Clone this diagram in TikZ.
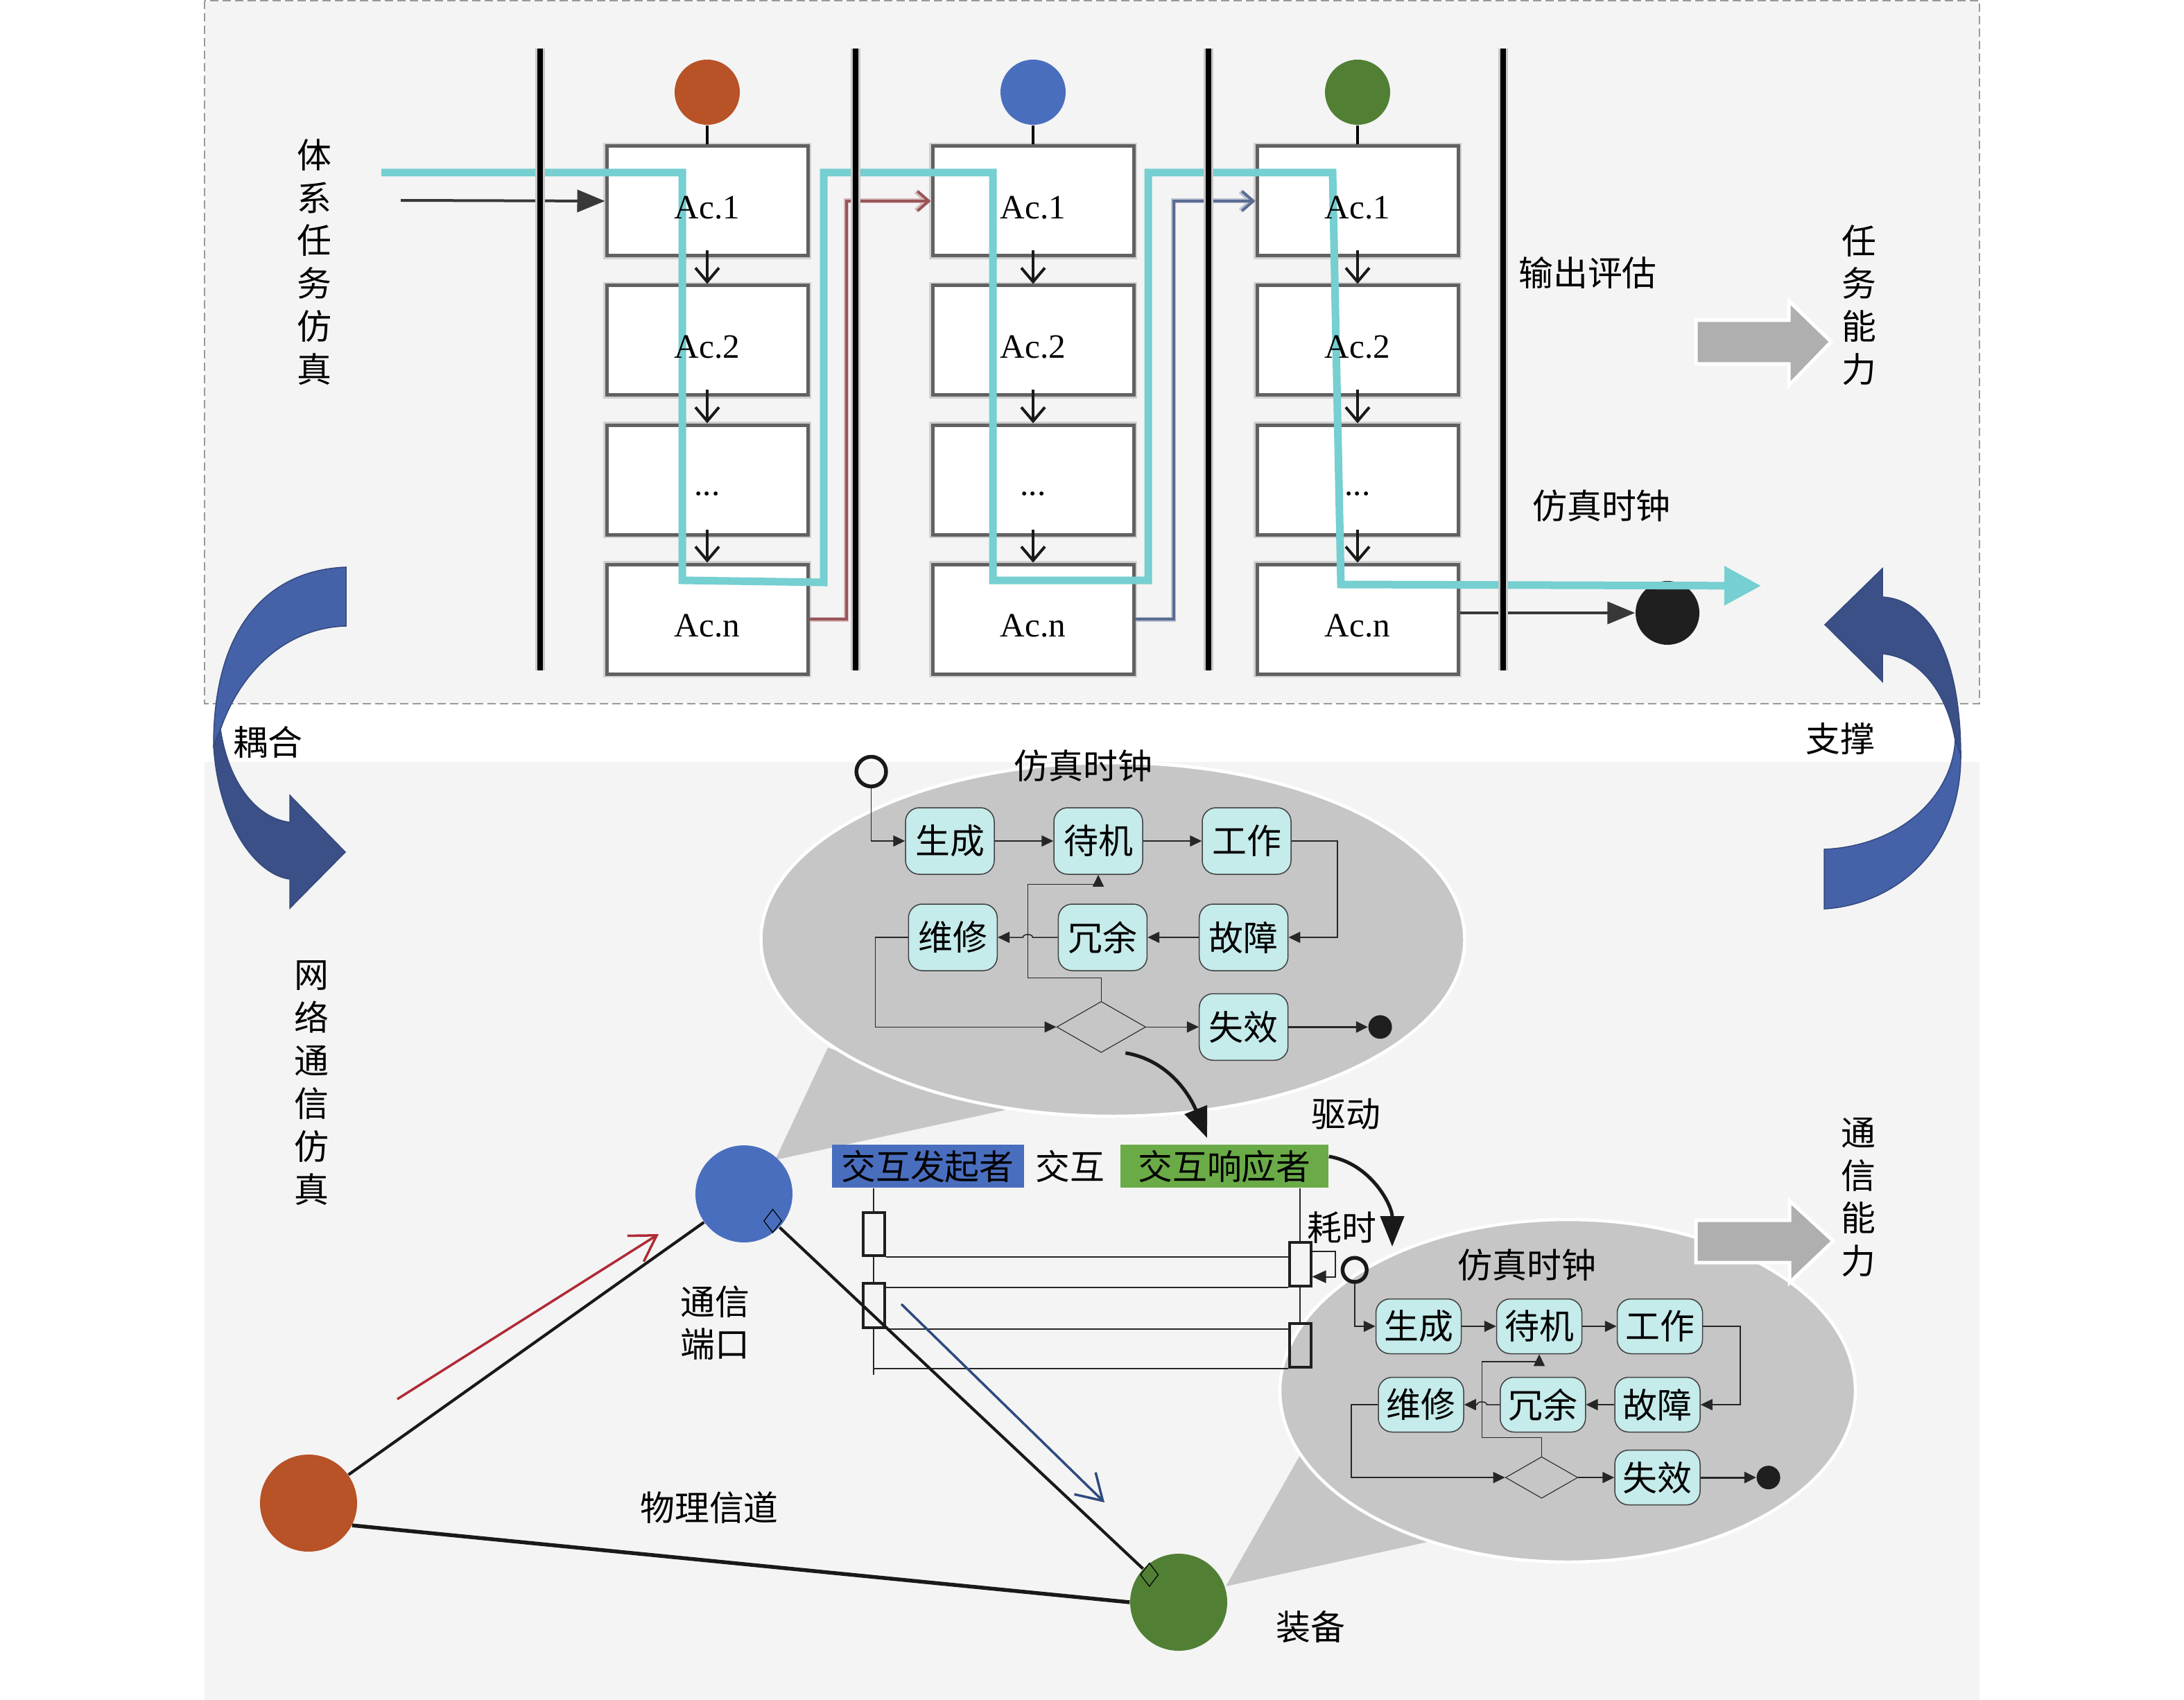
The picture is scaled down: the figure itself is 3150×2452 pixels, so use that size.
\documentclass[tikz,border=0pt]{standalone}
\usepackage{fontspec}
\setmainfont{Liberation Serif}
\newfontfamily\cjk{Noto Sans CJK SC}
\usetikzlibrary{arrows.meta,shapes.geometric,calc}

\definecolor{panelgray}{HTML}{F4F4F4}
\definecolor{rust}{HTML}{B85227}
\definecolor{royal}{HTML}{4A6EBE}
\definecolor{leaf}{HTML}{518035}
\definecolor{aqua}{HTML}{76CFD0}
\definecolor{bubblegray}{HTML}{C6C6C6}
\definecolor{mint}{HTML}{C5EBEA}
\definecolor{ribbonlight}{HTML}{4561A8}
\definecolor{ribbondark}{HTML}{3B5086}
\definecolor{ribbonedge}{HTML}{34497F}
\definecolor{blockgray}{HTML}{AFAFAF}
\definecolor{respgreen}{HTML}{6AAB48}
\definecolor{wine}{HTML}{B02A36}
\definecolor{navy}{HTML}{2E4B7F}
\definecolor{dustred}{HTML}{9A5558}
\definecolor{slate}{HTML}{5A6C92}

\tikzset{
  zh/.style={font=\cjk\fontsize{14.2pt}{17.6pt}\selectfont, inner sep=0pt},
  actlabel/.style={font=\fontsize{14pt}{16pt}\selectfont, inner sep=0pt},
  actbox/.style={draw=black!62, line width=0.5mm, fill=white, minimum width=29mm,
    minimum height=15.8mm, inner sep=0pt, preaction={draw=black!18, line width=1mm}},
  lanedot/.style={circle, minimum size=9.4mm, inner sep=0pt},
  lane/.style={line width=0.85mm, preaction={draw=black!22, line width=1.35mm}},
  stem/.style={line width=0.4mm},
  nextact/.style={draw=black!90, line width=0.4mm, -{Straight Barb[length=2mm,width=3.4mm]}},
  feed/.style={draw=black!78, line width=0.4mm, -{Triangle[length=4mm,width=3.2mm]}},
  handover/.style={line width=0.4mm, -{Straight Barb[length=1.6mm,width=2.8mm]}},
  clockline/.style={draw=aqua, line width=1.1mm, -{Triangle[length=5.3mm,width=5.4mm]}},
  blockarrow/.style={fill=blockgray, draw=white, line width=0.5mm},
  ribbon/.style={draw=ribbonedge, line width=0.15mm},
  bubble/.style={ellipse, fill=bubblegray, draw=white, line width=0.45mm, inner sep=0pt},
  clockstate/.style={zh, rounded corners=2mm, fill=mint, draw=black!75, line width=0.15mm},
  choice/.style={diamond, draw=black!80, line width=0.12mm, inner sep=0pt},
  stopdot/.style={circle, fill=black!88, minimum size=3.4mm, inner sep=0pt},
  startring/.style={circle, draw=black!90, line width=0.55mm, inner sep=0pt},
  trans/.style={draw=black!85, line width=0.15mm, -{Triangle[length=1.7mm,width=1.6mm]}},
  drive/.style={draw=black!90, line width=0.5mm, -{Triangle[length=4.4mm,width=3.4mm]}},
  actbar/.style={draw=black!88, line width=0.4mm, minimum width=3.1mm, inner sep=0pt},
  lifeline/.style={draw=black!85, line width=0.2mm},
  message/.style={draw=black!85, line width=0.28mm},
  netnode/.style={circle, minimum size=14mm, inner sep=0pt},
  netlink/.style={draw=black!90, line width=0.42mm},
  port/.style={diamond, draw=black, line width=0.12mm, minimum width=2.6mm,
    minimum height=3.4mm, inner sep=0pt},
  sendarrow/.style={line width=0.35mm, -{Straight Barb[length=3.6mm,width=4.4mm]}}
}

% state chart of the simulation clock
% #1 prefix, #2 place of the first state, #3 column step, #4 row step, #5 box width, #6 box height
\newcommand{\clockchart}[6]{%
  \begin{scope}[shift={#2}, x=#3, y=-#4]
    \node[clockstate, minimum width=#5, minimum height=#6] (#1gen) at (0,0) {生成};
    \node[clockstate, minimum width=#5, minimum height=#6] (#1wait) at (1,0) {待机};
    \node[clockstate, minimum width=#5, minimum height=#6] (#1work) at (2,0) {工作};
    \node[clockstate, minimum width=#5, minimum height=#6] (#1rep) at (0.02,1) {维修};
    \node[clockstate, minimum width=#5, minimum height=#6] (#1red) at (1.03,1) {冗余};
    \node[clockstate, minimum width=#5, minimum height=#6] (#1flt) at (1.98,1) {故障};
    \node[clockstate, minimum width=#5, minimum height=#6] (#1fail) at (1.98,1.93) {失效};
    \node[choice, minimum width=0.6*#3, minimum height=0.53*#4] (#1dia) at (1.02,1.93) {};
    \node[stopdot] (#1end) at (2.9,1.93) {};
    \node[startring, minimum size=0.2*#3] (#1start) at (-0.53,-0.72) {};
    \node[zh] (#1title) at (0.9,-0.78) {仿真时钟};
    \coordinate (#1hi) at (0,1.42);
    \coordinate (#1lo) at (0,0.45);
    \coordinate (#1jog) at ($(#1rep.east)!0.5!(#1red.west)$);
    % Draw the transitions
    \draw[trans] (#1start) |- (#1gen);
    \draw[trans] (#1gen) -- (#1wait);
    \draw[trans] (#1wait) -- (#1work);
    \draw[trans] (#1work.east) -- ++(0.31,0) |- (#1flt);
    \draw[trans] (#1flt) -- (#1red);
    \draw[trans] (#1red) -- ([xshift=0.7mm]#1jog) to[out=90,in=90] ([xshift=-0.7mm]#1jog) -- (#1rep);
    \draw[trans] (#1rep.west) -- ++(-0.22,0) |- (#1dia);
    \draw[trans] (#1dia.north) |- (#1jog |- #1hi) -- (#1jog |- #1lo) -| (#1wait.south);
    \draw[trans] (#1dia) -- (#1fail);
    \draw[trans, line width=0.3mm] (#1fail) -- (#1end);
  \end{scope}}

\begin{document}
\begin{tikzpicture}[x=0.1mm, y=-0.1mm]
  \useasboundingbox (0,0) rectangle (3150,2452);
  \fill[white] (0,0) rectangle (3150,2452);

  % Draw the two panels
  \fill[panelgray] (295,1099) rectangle (2855,2452);
  \draw[draw=black!40, fill=panelgray, line width=0.12mm, dash pattern=on 1.2mm off 0.6mm]
    (295,1) rectangle (2855,1015);

  % Draw the activity boxes of the three lanes
  \foreach \c/\x/\clr in {1/1020/rust, 2/1490/royal, 3/1958/leaf}{
    \node[lanedot, fill=\clr] (p\c) at (\x,133) {};
    \foreach \r/\y in {1/290, 2/491, 3/692, 4/893}
      \node[actbox] (a\c\r) at (\x,\y) {};
    \draw[stem] (p\c) -- (a\c1);
    \foreach \r/\s in {1/2, 2/3, 3/4}
      \draw[nextact] ([yshift=1mm]a\c\r.south) -- (a\c\s);
  }

  % Draw the hand-over between the lanes
  \draw[handover, dustred, preaction={draw=dustred!40, line width=0.7mm}]
    (a14.east) -- ++(5.3mm,0) |- (a21.west);
  \draw[handover, slate, preaction={draw=slate!40, line width=0.7mm}]
    (a24.east) -- ++(5.5mm,0) |- (a31.west);

  % Draw the task input and the end of the run
  \coordinate (task) at (578,289);
  \node[circle, fill=black!88, minimum size=9.2mm, inner sep=0pt] (enddot) at (2405,884) {};
  \draw[feed] (task) -- (a11.west);
  \draw[feed] (a34.east |- enddot) -- (enddot);

  % Draw the simulation clock line
  \draw[clockline] (550,249) -- (984,249) -- (984,837) -- (1188,840) -- (1188,249)
    -- (1432,249) -- (1432,837) -- (1656,837) -- (1656,249) -- (1922,249)
    -- (1934,843) -- (2540,845);

  % Draw the lanes
  \foreach \x in {779,1234,1743,2168}
    \draw[lane] (\x,70) -- (\x,967);

  % Write the activity names
  \foreach \c in {1,2,3}{
    \node[actlabel] (t\c1) at ([yshift=-1mm]a\c1) {Ac.1};
    \node[actlabel] (t\c2) at ([yshift=-1mm]a\c2) {Ac.2};
    \node[actlabel] (t\c3) at ([yshift=-2mm]a\c3) {...};
    \node[actlabel] (t\c4) at ([yshift=-1mm]a\c4) {Ac.n};
  }

  % Draw the ribbon "coupling" on the left
  \filldraw[ribbon, fill=ribbonlight] (499,818) .. controls (390,822) and (308,900) .. (308,1075)
    -- (318,1052) .. controls (350,960) and (420,905) .. (499,903) -- cycle;
  \filldraw[ribbon, fill=ribbondark] (308,1075) .. controls (315,1190) and (370,1262) .. (418,1268)
    -- (418,1310) -- (498,1229) -- (418,1147) -- (418,1186)
    .. controls (370,1180) and (330,1130) .. (318,1052) -- cycle;

  % Draw the ribbon "support" on the right
  \filldraw[ribbon, fill=ribbondark] (2715,861) .. controls (2790,866) and (2828,960) .. (2828,1090)
    -- (2820,1068) .. controls (2808,1000) and (2770,948) .. (2715,943)
    -- (2715,983) -- (2632,901) -- (2715,820) -- cycle;
  \filldraw[ribbon, fill=ribbonlight] (2828,1090) .. controls (2828,1230) and (2730,1305) .. (2631,1311)
    -- (2631,1225) .. controls (2740,1220) and (2815,1150) .. (2820,1068) -- cycle;

  % Write the labels of the upper panel
  \node[zh, align=center] (tixi) at (453,378) {体\\系\\任\\务\\仿\\真};
  \node[zh, align=center] (renwu) at (2681,440) {任\\务\\能\\力};
  \node[zh] (shuchu) at (2290,393) {输出评估};
  \node[zh] (clock) at (2310,730) {仿真时钟};
  \node[zh] (ouhe) at (386,1070) {耦合};
  \node[zh] (zhicheng) at (2654,1066) {支撑};
  \node[zh, align=center] (wangluo) at (449,1562) {网\\络\\通\\信\\仿\\真};
  \node[zh, align=center] (tongxin) at (2680,1727) {通\\信\\能\\力};

  % Draw the upper block arrow
  \filldraw[blockarrow] (2446,462) -- (2580,462) -- (2580,434) -- (2641,493)
    -- (2580,556) -- (2580,525) -- (2446,525) -- cycle;

  % Draw the two balloons with their tails
  \fill[bubblegray] (1194,1511) -- (1118,1673) -- (1450,1601) -- cycle;
  \fill[bubblegray] (1880,2090) -- (1768,2288) -- (2068,2222) -- cycle;
  \node[bubble, minimum width=101.5mm, minimum height=51mm] (bub1) at (1605,1355) {};
  \node[bubble, minimum width=83mm, minimum height=49.4mm] (bub2) at (2261,2006) {};

  % Draw the state charts of the clock
  \clockchart{e1}{(1370,1213)}{21.4mm}{13.9mm}{12.8mm}{9.6mm}
  \clockchart{e2}{(2046,1913)}{17.4mm}{11.3mm}{12.3mm}{7.9mm}

  % Draw the lower block arrow
  \filldraw[blockarrow] (2446,1760) -- (2581,1760) -- (2581,1732) -- (2644,1790)
    -- (2581,1850) -- (2581,1821) -- (2446,1821) -- cycle;

  % Draw the interaction
  \node[zh, fill=royal, minimum width=27.7mm, minimum height=6.2mm] (init) at (1338,1682) {交互发起者};
  \node[zh] (inter) at (1543,1682) {交互};
  \node[zh, fill=respgreen, minimum width=30mm, minimum height=6.2mm] (resp) at (1766,1682) {交互响应者};
  \node[actbar, minimum height=6.2mm] (ia1) at (1260,1780) {};
  \node[actbar, minimum height=6.4mm] (ia2) at (1260,1883) {};
  \node[actbar, minimum height=6.3mm] (ra1) at (1875,1823.5) {};
  \node[actbar, minimum height=6.3mm] (rb) at (1875,1940.5) {};
  \coordinate (ll1end) at (1260,1983);
  \draw[lifeline] (ia1 |- init.south) -- (ia1);
  \draw[lifeline] (ia1) -- (ia2);
  \draw[lifeline] (ia2) -- (ll1end);
  \draw[lifeline] (ra1 |- resp.south) -- (ra1);
  \draw[lifeline] (ra1) -- (rb);
  \draw[message] (ia1.south east) -- (ia1.south east -| ra1.west);
  \draw[message] (ra1.south west) -- (ra1.south west -| ia2.east);
  \draw[message] (ia2.south east) -- (ia2.south east -| rb.west);
  \draw[message] (rb.south west) -- (rb.south west -| ll1end);
  \draw[lifeline, -{Triangle[length=2mm,width=1.8mm]}]
    ([yshift=1.9mm]ra1.east) -- ++(3.3mm,0) |- ([yshift=-1.8mm]ra1.east);

  % Draw the two driving arrows
  \coordinate (drivein) at (2008,1798);
  \draw[drive] ([xshift=3.5mm]e1dia.south) .. controls +(7mm,-1.2mm) and +(-2mm,5mm)
    .. ([xshift=-2.5mm,yshift=0.9mm]resp.north);
  \draw[drive] ([yshift=1.4mm]resp.east) .. controls +(6mm,-1mm) and +(0,6mm) .. (drivein);

  % Draw the network of three nodes
  \node[netnode, fill=royal] (blue) at (1073,1722) {};
  \node[netnode, fill=rust] (orange) at (445,2168) {};
  \node[netnode, fill=leaf] (green) at (1700,2311) {};
  \draw[netlink] (orange) -- (blue);
  \draw[netlink] (blue) -- (green);
  \draw[netlink, line width=0.55mm] (orange.-27) -- (green.west);
  \node[port] (portb) at ($(blue)!5.7mm!(green)$) {};
  \node[port] (portg) at ($(green)!5.8mm!(blue)$) {};

  % Draw the sending arrows
  \coordinate (upA) at (573,2018);
  \coordinate (upB) at (950,1780);
  \coordinate (downA) at (1300,1881);
  \coordinate (downB) at (1593,2167);
  \draw[sendarrow, wine] (upA) -- (upB);
  \draw[sendarrow, navy] (downA) -- (downB);

  % Write the labels of the lower panel
  \node[zh] (qudong) at (1941,1607) {驱动};
  \node[zh] (haoshi) at (1935,1770) {耗时};
  \node[zh, align=center] (duankou) at (1031,1908) {通信\\端口};
  \node[zh] (xindao) at (1023,2174) {物理信道};
  \node[zh] (zhuangbei) at (1890,2347) {装备};
\end{tikzpicture}
\end{document}
